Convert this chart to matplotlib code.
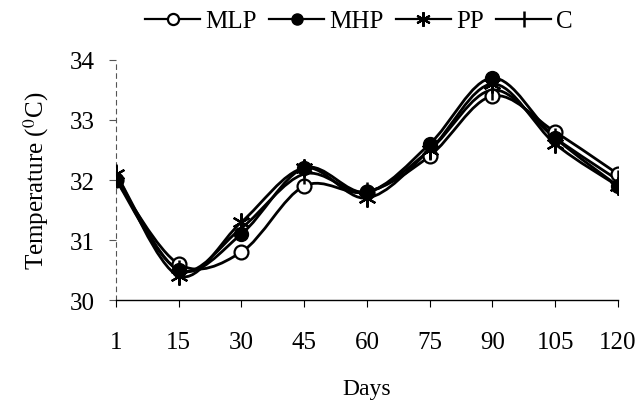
import numpy as np
import matplotlib
matplotlib.use("Agg")
import matplotlib.pyplot as plt
from matplotlib.path import Path
from matplotlib.patches import PathPatch
from matplotlib.lines import Line2D

plt.rcParams['font.family'] = ['Liberation Serif', 'DejaVu Serif']
plt.rcParams['mathtext.fontset'] = 'stix'

days = ['1', '15', '30', '45', '60', '75', '90', '105', '120']
mlp = [32.0, 30.6, 30.8, 31.9, 31.8, 32.4, 33.4, 32.8, 32.1]
mhp = [32.0, 30.5, 31.1, 32.2, 31.8, 32.6, 33.7, 32.7, 31.9]
pp = [32.1, 30.4, 31.3, 32.2, 31.7, 32.5, 33.6, 32.6, 31.9]
ctrl = [32.1, 30.5, 31.2, 32.1, 31.8, 32.5, 33.5, 32.7, 32.0]

series = [
    ('MLP', mlp, dict(marker='o', markerfacecolor='white', markersize=10, markeredgewidth=1.6)),
    ('MHP', mhp, dict(marker='o', markerfacecolor='black', markersize=10)),
    ('PP', pp, dict(marker=(6, 2, 0), markersize=13, markeredgewidth=1.6)),
    ('C', ctrl, dict(marker='|', markersize=14, markeredgewidth=1.8)),
]


def smooth_path(x, y):
    # cubic bezier through the points, catmull-rom style control points
    pts = np.column_stack([x, y])
    n = len(pts)
    verts = [pts[0]]
    codes = [Path.MOVETO]
    for i in range(n - 1):
        p0 = pts[i - 1] if i > 0 else pts[i]
        p1 = pts[i]
        p2 = pts[i + 1]
        p3 = pts[i + 2] if i + 2 < n else pts[i + 1]
        verts += [p1 + (p2 - p0) / 6, p2 - (p3 - p1) / 6, p2]
        codes += [Path.CURVE4] * 3
    return Path(verts, codes)


fig = plt.figure(figsize=(6.41, 4.02), dpi=100)
ax = fig.add_axes([0.181, 0.2512, 0.783, 0.5971])
x = np.arange(len(days))

handles = []
for name, vals, mk in series:
    ax.add_patch(PathPatch(smooth_path(x, vals), facecolor='none',
                           edgecolor='black', lw=2.0, zorder=2))
    ax.plot(x, vals, linestyle='none', color='black', zorder=3, **mk)
    leg_mk = dict(mk)
    leg_mk['markersize'] = mk['markersize'] * 0.8
    handles.append(Line2D([], [], color='black', lw=1.6, label=name, **leg_mk))

ax.set_xlim(0, 8)
ax.set_ylim(30, 34)
ax.set_xticks(x)
ax.set_xticklabels(days)
ax.set_yticks([30, 31, 32, 33, 34])
ax.tick_params(axis='x', direction='out', length=5, pad=17, labelsize=18)
ax.tick_params(axis='y', direction='out', length=5, pad=10, labelsize=18, color='#555555')

for s in ['top', 'right']:
    ax.spines[s].set_visible(False)
ax.spines['left'].set_linestyle((0, (4, 4)))
ax.spines['left'].set_color('#555555')
ax.spines['left'].set_linewidth(0.8)
ax.spines['bottom'].set_linewidth(1.0)

ax.set_xlabel('Days', fontsize=17, labelpad=18)
ax.set_ylabel('Temperature ($^{0}$C)', fontsize=18, labelpad=14)

fig.legend(handles=handles, loc='center', bbox_to_anchor=(0.56, 0.945),
           ncol=4, frameon=False, fontsize=18, handlelength=2.2,
           handletextpad=0.2, columnspacing=0.5)

fig.savefig('out.png', dpi=100)
